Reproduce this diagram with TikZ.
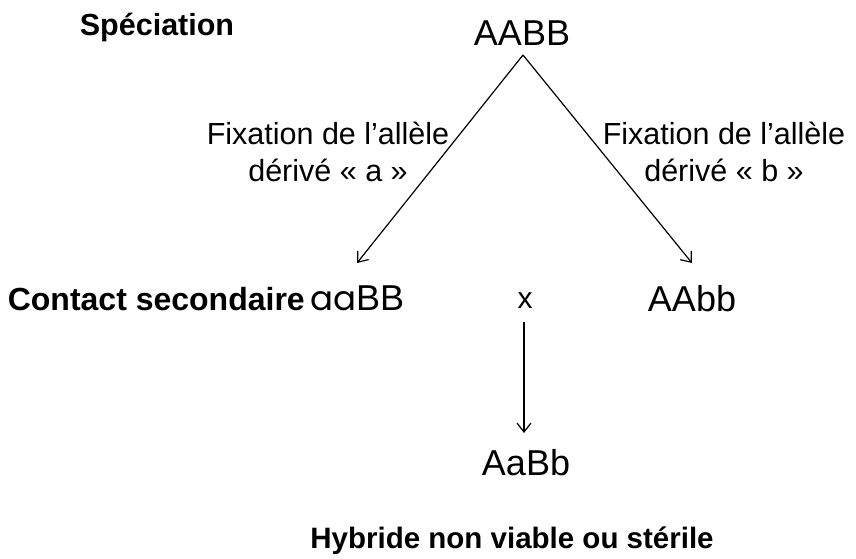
\documentclass[tikz,border=0pt]{standalone}
\usepackage{fontspec}
\setmainfont{Liberation Sans}
\newfontfamily\geofont{Poppins}
\usetikzlibrary{arrows.meta}
\tikzset{
  gene/.style={inner sep=0pt, font=\fontsize{36}{40}\selectfont},
  label/.style={inner sep=0pt, font=\fontsize{30.5}{37}\selectfont},
  title/.style={inner sep=0pt, font=\fontsize{30.5}{36}\selectfont\bfseries},
  cross/.style={inner sep=0pt, font=\fontsize{30}{34}\selectfont},
  arr/.style={line width=1.2pt, -{Straight Barb[length=9pt,width=14pt,line width=1.2pt]}},
}
\begin{document}
\begin{tikzpicture}[x=1pt,y=-1pt]
\useasboundingbox (0,0) rectangle (856,558);

% headings
\node[title, anchor=base] (spec) at (157,35) {Spéciation};
\node[title, font=\fontsize{32}{36}\selectfont\bfseries, anchor=base east] (contact) at (305,310) {Contact secondaire};
\node[title, font=\fontsize{29.5}{34}\selectfont\bfseries, anchor=base] (hyb) at (512,548) {Hybride non viable ou stérile};

% genotypes
\node[gene, anchor=base] (AABB) at (522,45) {AABB};
\node[gene, anchor=base west] (aaBB) at (310,310) {{\geofont\fontsize{34}{40}\selectfont aa}BB};
\node[gene, anchor=base] (AAbb) at (692,311) {AAbb};
\node[cross, anchor=base] (x) at (525,308) {x};
\node[gene, anchor=base] (AaBb) at (526,475) {AaBb};

% branch labels (anchored on the baseline of the second line)
\node[label, align=center, anchor=base] (fixa) at (328,181)
  {Fixation de l’allèle\\dérivé « a »};
\node[label, align=center, anchor=base] (fixb) at (724,181)
  {Fixation de l’allèle\\dérivé « b »};

% connectors
\coordinate (apex) at (523,55);
\coordinate (tipA) at (357,263);
\coordinate (tipB) at (692,263);
\coordinate (crossfoot) at (524,322);
\coordinate (tipH) at (524,433);
\draw[arr] (apex) -- (tipA);
\draw[arr] (apex) -- (tipB);
\draw[arr] (crossfoot) -- (tipH);
\end{tikzpicture}
\end{document}
